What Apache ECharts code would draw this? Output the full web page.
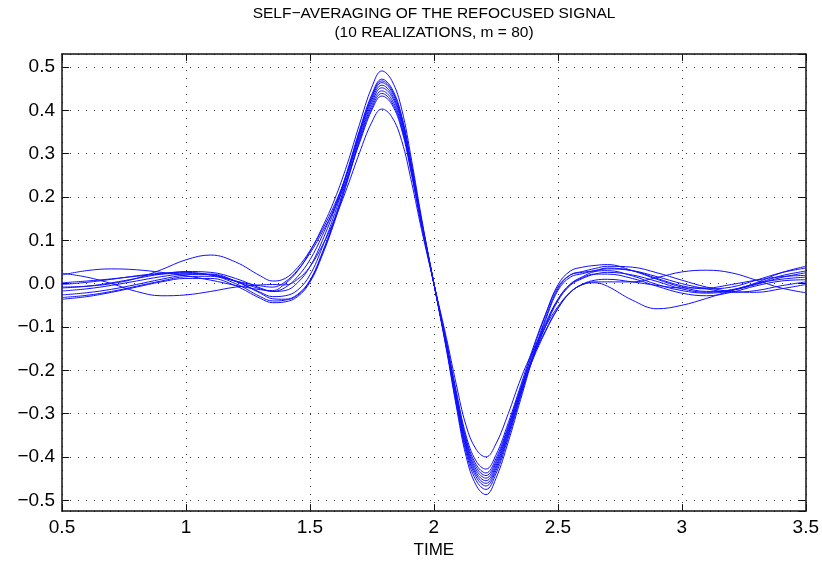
<!DOCTYPE html>
<html>
<head>
<meta charset="utf-8">
<script src="https://cdn.jsdelivr.net/npm/echarts@6/dist/echarts.min.js"></script>
<style>
  html, body { margin: 0; padding: 0; background: #fff; }
  #chart { width: 822px; height: 564px; }
</style>
</head>
<body>
<div id="chart"></div>
<script>
// Sample times shared by all realizations (denser across the pulse)
const times = [0.5, 0.6, 0.7, 0.8, 0.9, 1.0, 1.1, 1.2, 1.3, 1.35, 1.4, 1.45, 1.5, 1.55, 1.6, 1.65, 1.7, 1.75,
  1.79, 1.83, 1.87, 1.91, 1.95, 2.0, 2.05, 2.09, 2.13, 2.17, 2.21, 2.25, 2.3, 2.35, 2.4, 2.45, 2.5, 2.55,
  2.6, 2.65, 2.7, 2.8, 2.9, 3.0, 3.1, 3.2, 3.3, 3.4, 3.5];

// Refocused signal, one array per realization
const real1 = [-0.008, -0.006, 0.0, 0.012, 0.032, 0.055, 0.066, 0.05, 0.018, 0.006, 0.012, 0.037, 0.076, 0.125, 0.183, 0.254, 0.339, 0.418,
  0.452, 0.432, 0.371, 0.262, 0.140, 0.0, -0.139, -0.260, -0.368, -0.429, -0.449, -0.415, -0.337, -0.246, -0.154, -0.072, -0.003, 0.029,
  0.038, 0.042, 0.044, 0.03, 0.01, -0.008, -0.018, -0.015, -0.002, 0.014, 0.025];
const real2 = [0.024, 0.015, 0.0, -0.018, -0.028, -0.026, -0.018, -0.008, -0.003, -0.002, -0.003, 0.010, 0.039, 0.088, 0.149, 0.222, 0.302, 0.373,
  0.403, 0.385, 0.330, 0.234, 0.125, 0.0, -0.124, -0.232, -0.328, -0.382, -0.400, -0.370, -0.300, -0.220, -0.154, -0.099, -0.053, -0.020,
  -0.002, 0.002, -0.006, -0.038, -0.058, -0.05, -0.034, -0.016, 0.0, 0.01, 0.015];
const real3 = [0.02, 0.03, 0.034, 0.032, 0.026, 0.018, 0.008, -0.004, -0.014, -0.016, 0.0, 0.029, 0.074, 0.130, 0.195, 0.275, 0.368, 0.454,
  0.491, 0.469, 0.403, 0.285, 0.152, 0.0, -0.151, -0.282, -0.399, -0.465, -0.487, -0.450, -0.365, -0.267, -0.170, -0.085, -0.016, 0.015,
  0.023, 0.03, 0.036, 0.03, 0.012, -0.005, -0.012, -0.008, 0.008, 0.025, 0.036];
const real4 = [0.002, 0.006, 0.011, 0.017, 0.022, 0.024, 0.02, 0.006, -0.012, -0.018, -0.016, 0.002, 0.039, 0.099, 0.172, 0.259, 0.354, 0.437,
  0.472, 0.451, 0.387, 0.274, 0.146, 0.0, -0.147, -0.276, -0.390, -0.454, -0.475, -0.439, -0.356, -0.260, -0.165, -0.080, -0.012, 0.020,
  0.028, 0.035, 0.04, 0.038, 0.025, 0.008, -0.008, -0.018, -0.02, -0.012, -0.002];
const real5 = [-0.01, -0.006, 0.002, 0.012, 0.022, 0.028, 0.026, 0.012, -0.01, -0.018, -0.009, 0.016, 0.055, 0.111, 0.178, 0.257, 0.351, 0.433,
  0.468, 0.447, 0.384, 0.271, 0.145, 0.0, -0.145, -0.271, -0.383, -0.446, -0.467, -0.432, -0.350, -0.256, -0.171, -0.099, -0.040, -0.004,
  0.012, 0.022, 0.026, 0.02, 0.005, -0.012, -0.02, -0.014, 0.0, 0.018, 0.029];
const real6 = [-0.017, -0.012, -0.004, 0.006, 0.016, 0.022, 0.021, 0.005, -0.02, -0.03, -0.028, -0.015, 0.020, 0.084, 0.162, 0.254, 0.348, 0.429,
  0.464, 0.443, 0.380, 0.269, 0.144, 0.0, -0.143, -0.267, -0.378, -0.440, -0.461, -0.426, -0.346, -0.253, -0.168, -0.097, -0.037, -0.001,
  0.016, 0.028, 0.03, 0.018, -0.002, -0.016, -0.022, -0.016, 0.002, 0.025, 0.04];
const real7 = [-0.026, -0.021, -0.013, -0.002, 0.01, 0.02, 0.022, 0.006, -0.022, -0.035, -0.036, -0.025, 0.008, 0.072, 0.152, 0.245, 0.344, 0.424,
  0.458, 0.437, 0.376, 0.266, 0.142, 0.0, -0.141, -0.264, -0.373, -0.435, -0.455, -0.421, -0.341, -0.250, -0.174, -0.111, -0.058, -0.020,
  -0.001, 0.008, 0.01, 0.004, -0.004, -0.01, -0.01, -0.002, 0.008, 0.016, 0.019];
const real8 = [-0.032, -0.027, -0.018, -0.006, 0.006, 0.016, 0.017, 0.0, -0.03, -0.04, -0.038, -0.027, 0.006, 0.069, 0.147, 0.238, 0.334, 0.412,
  0.445, 0.425, 0.365, 0.258, 0.138, 0.0, -0.137, -0.257, -0.363, -0.423, -0.443, -0.410, -0.332, -0.244, -0.169, -0.108, -0.057, -0.020,
  -0.002, 0.004, 0.004, 0.004, 0.014, 0.027, 0.031, 0.025, 0.008, -0.01, -0.021];
const real9 = [-0.036, -0.03, -0.02, -0.008, 0.004, 0.012, 0.012, -0.005, -0.034, -0.044, -0.042, -0.030, 0.003, 0.066, 0.144, 0.234, 0.329, 0.406,
  0.439, 0.419, 0.360, 0.255, 0.136, 0.0, -0.135, -0.253, -0.358, -0.417, -0.437, -0.404, -0.328, -0.240, -0.160, -0.092, -0.036, -0.002,
  0.014, 0.022, 0.022, 0.012, -0.006, -0.022, -0.028, -0.02, -0.005, 0.006, 0.009];
const real10 = [-0.002, 0.003, 0.01, 0.018, 0.024, 0.026, 0.02, 0.006, -0.005, -0.008, 0.004, 0.031, 0.070, 0.119, 0.174, 0.243, 0.325, 0.401,
  0.433, 0.414, 0.355, 0.251, 0.134, 0.0, -0.133, -0.248, -0.351, -0.409, -0.428, -0.396, -0.321, -0.235, -0.148, -0.071, -0.008, 0.020,
  0.026, 0.03, 0.034, 0.03, 0.016, 0.0, -0.012, -0.02, -0.016, -0.005, 0.004];

const realizations = [real1, real2, real3, real4, real5, real6, real7, real8, real9, real10];

const titleLines = ['SELF\u2212AVERAGING OF THE REFOCUSED SIGNAL', '(10 REALIZATIONS, m = 80)'];
const xLabel = 'TIME';

const FONT = '"Liberation Sans", Arial, Helvetica, sans-serif';
const gridLine = { show: true, lineStyle: { color: '#333', width: 1, type: [1, 7] } };
const boxLine = { show: true, onZero: false, lineStyle: { color: '#111', width: 1.5 } };
const innerTick = { show: true, inside: true, length: 7, lineStyle: { color: '#111', width: 1 } };

function yFmt(v) {
  const r = Math.round(v * 10);
  if (Math.abs(v * 10 - r) > 1e-6) return '';
  const s = Math.abs(r / 10).toFixed(1);
  return r < 0 ? '\u2212' + s : s;
}

const chart = echarts.init(document.getElementById('chart'), null, { renderer: 'canvas' });
chart.setOption({
  animation: false,
  backgroundColor: '#fff',
  grid: { left: 62, right: 16, top: 54, bottom: 48, containLabel: false },
  graphic: titleLines.map((t, i) => ({
    type: 'text', x: 434, y: 14 + i * 19,
    style: { text: t, font: '15.5px ' + FONT, fill: '#000', textAlign: 'center', textVerticalAlign: 'middle' }
  })),
  xAxis: [
    {
      type: 'value', min: 0.5, max: 3.5, interval: 0.5, position: 'bottom',
      name: xLabel, nameLocation: 'middle', nameGap: 27,
      nameTextStyle: { color: '#000', fontSize: 17, fontFamily: FONT },
      axisLine: boxLine, axisTick: innerTick, splitLine: gridLine,
      axisLabel: { color: '#000', fontSize: 19, fontFamily: FONT, margin: 7 }
    },
    {
      type: 'value', min: 0.5, max: 3.5, interval: 0.5, position: 'top',
      axisLine: boxLine, axisTick: innerTick, splitLine: { show: false }, axisLabel: { show: false }
    }
  ],
  yAxis: [
    {
      type: 'value', min: -0.525, max: 0.53, splitNumber: 10, position: 'left',
      axisLine: boxLine, axisTick: innerTick, splitLine: gridLine,
      axisLabel: { color: '#000', fontSize: 19, fontFamily: FONT, margin: 7, formatter: yFmt,
        showMinLabel: false, showMaxLabel: false }
    },
    {
      type: 'value', min: -0.525, max: 0.53, splitNumber: 10, position: 'right',
      axisLine: boxLine, axisTick: innerTick, splitLine: { show: false }, axisLabel: { show: false }
    }
  ],
  series: realizations.map((vals, k) => ({
    name: 'realization ' + (k + 1),
    type: 'line',
    xAxisIndex: 0, yAxisIndex: 0,
    data: times.map((t, i) => [t, vals[i]]),
    showSymbol: false,
    smooth: 0.4,
    lineStyle: { color: '#1010ff', width: 1 },
    emphasis: { disabled: true }
  }))
});
</script>
</body>
</html>
